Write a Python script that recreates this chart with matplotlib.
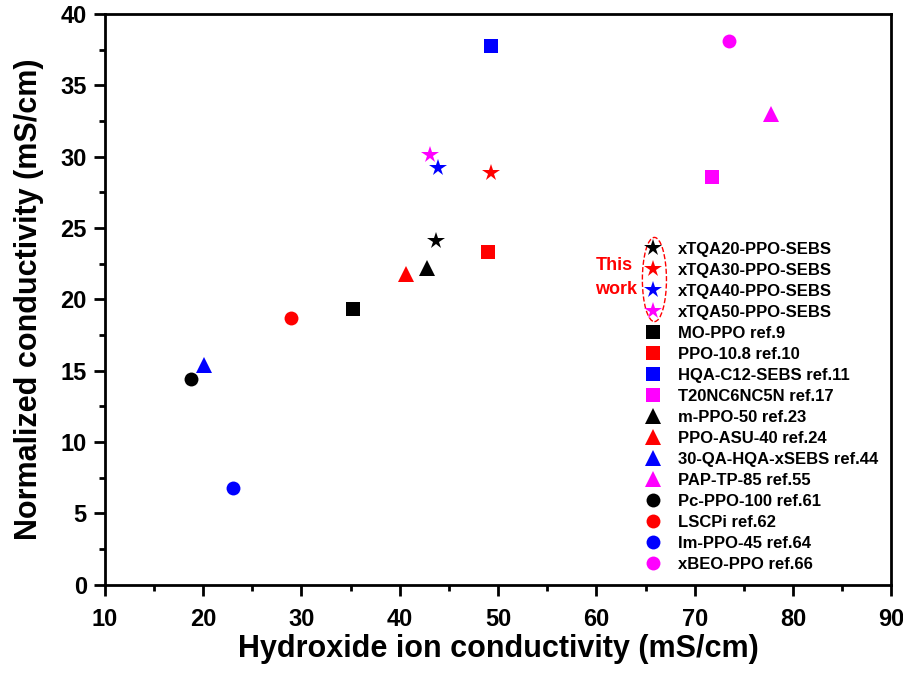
import matplotlib.pyplot as plt
from matplotlib.patches import Ellipse
from matplotlib.ticker import MultipleLocator

plt.rcParams['font.family'] = ['Liberation Sans', 'DejaVu Sans']
plt.rcParams['font.weight'] = 'bold'

# hydroxide ion conductivity vs normalized conductivity
labels = ["xTQA20-PPO-SEBS", "xTQA30-PPO-SEBS", "xTQA40-PPO-SEBS", "xTQA50-PPO-SEBS",
          "MO-PPO ref.9", "PPO-10.8 ref.10", "HQA-C12-SEBS ref.11", "T20NC6NC5N ref.17",
          "m-PPO-50 ref.23", "PPO-ASU-40 ref.24", "30-QA-HQA-xSEBS ref.44", "PAP-TP-85 ref.55",
          "Pc-PPO-100 ref.61", "LSCPi ref.62", "Im-PPO-45 ref.64", "xBEO-PPO ref.66"]
oh_cond = [43.7, 49.3, 43.9, 43.1,
           35.2, 49.0, 49.3, 71.8,
           42.8, 40.6, 20.1, 77.8,
           18.8, 28.9, 23.0, 73.5]
norm_cond = [24.1, 28.9, 29.2, 30.1,
             19.3, 23.3, 37.8, 28.6,
             22.2, 21.8, 15.4, 33.0,
             14.4, 18.7, 6.8, 38.1]
markers = ['*'] * 4 + ['s'] * 4 + ['^'] * 4 + ['o'] * 4
colors = ['black', 'red', 'blue', 'magenta'] * 4
sizes = {'*': 13, 's': 9.5, '^': 12, 'o': 10}

fig = plt.figure(figsize=(9.04, 6.73), dpi=100)
ax = fig.add_axes([0.116, 0.131, 0.870, 0.848])

for lab, x, y, m, c in zip(labels, oh_cond, norm_cond, markers, colors):
    ax.plot(x, y, linestyle='none', marker=m, color=c, markersize=sizes[m],
            markeredgewidth=0, label=lab)

ax.set_xlim(10, 90)
ax.set_ylim(0, 40)
ax.xaxis.set_major_locator(MultipleLocator(10))
ax.xaxis.set_minor_locator(MultipleLocator(5))
ax.yaxis.set_major_locator(MultipleLocator(5))
ax.yaxis.set_minor_locator(MultipleLocator(2.5))
ax.tick_params(which='major', direction='out', length=8, width=2, labelsize=17)
ax.tick_params(which='minor', direction='out', length=4, width=2)
ax.tick_params(axis='y', which='major', pad=5)
ax.tick_params(axis='x', which='major', pad=9)
for s in ax.spines.values():
    s.set_linewidth(2)
for t in ax.get_xticklabels() + ax.get_yticklabels():
    t.set_fontweight('bold')

ax.set_xlabel("Hydroxide ion conductivity (mS/cm)", fontsize=22, fontweight='bold', labelpad=2)
ax.set_ylabel("Normalized conductivity (mS/cm)", fontsize=22, fontweight='bold', labelpad=12)

leg = ax.legend(loc='upper left', bbox_to_anchor=(0.676, 0.613), frameon=False,
                fontsize=12, handlelength=1.2, handletextpad=0.9,
                labelspacing=0.36, borderaxespad=0, numpoints=1)
for t in leg.get_texts():
    t.set_fontweight('bold')

# highlight this work's samples
ax.add_patch(Ellipse((65.9, 21.4), 2.45, 5.9, fill=False, edgecolor='red',
                     linestyle='--', linewidth=1))
ax.text(59.9, 22.35, "This", color='red', fontsize=13, fontweight='bold', ha='left', va='center')
ax.text(59.9, 20.67, "work", color='red', fontsize=13, fontweight='bold', ha='left', va='center')

fig.savefig("out.png", dpi=100)
